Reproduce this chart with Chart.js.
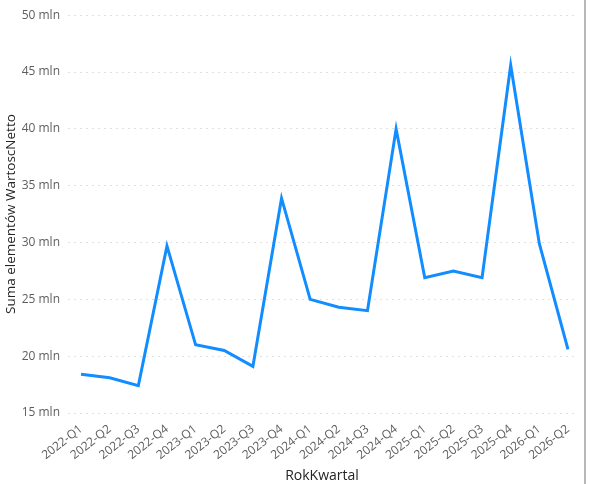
<!DOCTYPE html>
<html>
<head>
<meta charset="utf-8">
<script src="https://cdn.jsdelivr.net/npm/chart.js@4.4.1/dist/chart.umd.min.js"></script>
<style>
  html, body { margin: 0; padding: 0; background: #fff; }
  #wrap { position: relative; width: 590px; height: 484px; }
  #edge { position: absolute; left: 584px; top: 0; width: 2px; height: 484px; background: #b8b8b8; }
</style>
</head>
<body>
<div id="wrap">
  <canvas id="myChart" width="590" height="484"></canvas>
  <div id="edge"></div>
</div>
<script>
const quarters = ['2022-Q1', '2022-Q2', '2022-Q3', '2022-Q4', '2023-Q1', '2023-Q2', '2023-Q3', '2023-Q4',
    '2024-Q1', '2024-Q2', '2024-Q3', '2024-Q4', '2025-Q1', '2025-Q2', '2025-Q3', '2025-Q4', '2026-Q1', '2026-Q2']
const netValues = [18.4, 18.1, 17.4, 29.7, 21.0, 20.5, 19.1, 33.9,
    25.0, 24.3, 24.0, 40.0, 26.9, 27.5, 26.9, 45.6, 29.9, 20.6]
const yTicks = [15, 20, 25, 30, 35, 40, 45, 50]

const fontFamily = "'Open Sans', 'Noto Sans', sans-serif"

let myChart = document.getElementById('myChart').getContext('2d')
let netChart = new Chart(myChart, {
    type: 'line',
    data: {
        datasets: [{
            label: 'Suma elementów WartoscNetto',
            data: netValues.map((v, i) => ({ x: i, y: v })),
            borderColor: '#118DFF',
            borderWidth: 3,
            pointRadius: 0,
            tension: 0,
            fill: false
        }]
    },
    options: {
        responsive: false,
        animation: false,
        layout: { padding: { top: 13, right: 14, left: 0, bottom: 0 } },
        plugins: {
            legend: { display: false },
            tooltip: { enabled: false }
        },
        scales: {
            x: {
                type: 'linear',
                min: -0.455,
                max: 17.28,
                afterBuildTicks: scale => {
                    scale.ticks = quarters.map((q, i) => ({ value: i }))
                },
                afterFit: scale => { scale.height = 71 },
                grid: { display: false },
                border: { display: false },
                ticks: {
                    autoSkip: false,
                    minRotation: 38,
                    maxRotation: 38,
                    padding: 1,
                    color: '#605E5C',
                    font: { family: fontFamily, size: 12 },
                    callback: value => quarters[value]
                },
                title: {
                    display: true,
                    text: 'RokKwartal',
                    color: '#252423',
                    font: { family: fontFamily, size: 14 },
                    padding: { top: 4, bottom: 0 }
                }
            },
            y: {
                min: 15,
                max: 50,
                afterBuildTicks: scale => {
                    scale.ticks = yTicks.map(v => ({ value: v }))
                },
                afterFit: scale => { scale.width = 68 },
                border: { display: false, dash: [2, 4] },
                grid: {
                    color: '#e0e0e0',
                    lineWidth: 1,
                    drawTicks: false
                },
                ticks: {
                    padding: 8,
                    color: '#605E5C',
                    font: { family: fontFamily, size: 12 },
                    callback: value => `${value} mln`
                },
                title: {
                    display: true,
                    text: 'Suma elementów WartoscNetto',
                    color: '#252423',
                    font: { family: fontFamily, size: 13.5 },
                    padding: { top: 3, bottom: 0 }
                }
            }
        }
    }
})
</script>
</body>
</html>
